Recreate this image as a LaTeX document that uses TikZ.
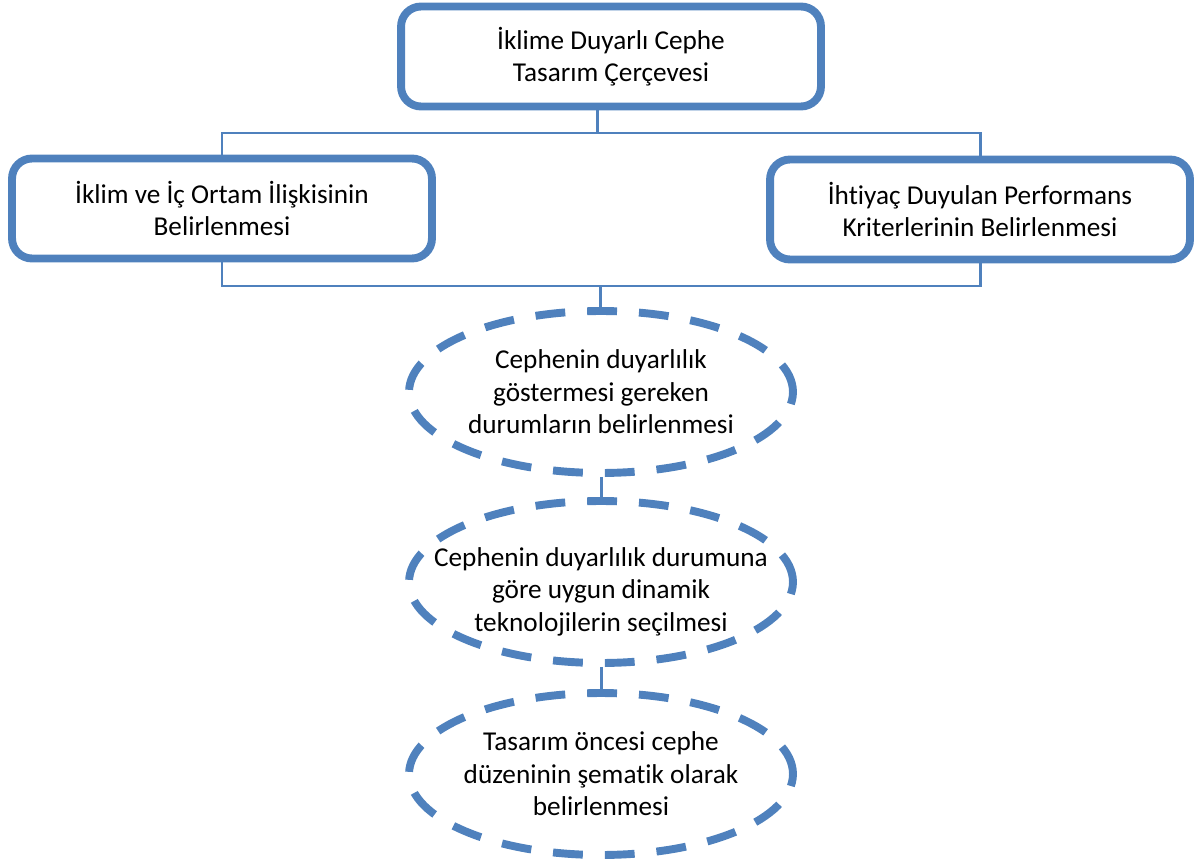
\documentclass[tikz,border=0pt]{standalone}
\usepackage{fontspec}
\setmainfont{Carlito}[Ligatures=NoCommon]
\usetikzlibrary{shapes.geometric}

\definecolor{boxblue}{RGB}{79,129,189}

\tikzset{
  mainbox/.style={draw=boxblue, line width=4.5pt, rounded corners=0.4cm,
    minimum width=8.4cm, minimum height=2cm, align=center, inner sep=0pt,
    font=\fontsize{15.5}{18.5}\selectfont},
  stepoval/.style={ellipse, draw=boxblue, line width=4.5pt,
    dash pattern=on 17pt off 12.5pt, minimum width=7.68cm, minimum height=3.24cm,
    align=center, inner xsep=-3cm, inner ysep=-1.5cm, font=\fontsize{15.5}{18.5}\selectfont},
  link/.style={draw=boxblue, line width=1.7pt}
}

\begin{document}
\begin{tikzpicture}[x=0.02cm, y=-0.02cm]
        \useasboundingbox (0,0) rectangle (1195,861);

        % Top box
        \node[mainbox] (frame) at (611,56.5) {İklime Duyarlı Cephe\\Tasarım Çerçevesi};

        % Second row
        \node[mainbox] (climate) at (222,208.5) {İklim ve İç Ortam İlişkisinin\\Belirlenmesi};
        \node[mainbox] (criteria) at (980,209.5) {İhtiyaç Duyulan Performans\\Kriterlerinin Belirlenmesi};

        % Steps
        \node[stepoval] (cases) at (601,392) {Cephenin duyarlılık\\göstermesi gereken\\durumların belirlenmesi};
        \node[stepoval] (tech) at (601,582) {\rule{0pt}{22pt}Cephenin duyarlılık durumuna\\göre uygun dinamik\\teknolojilerin seçilmesi};
        \node[stepoval] (layout) at (601,774) {Tasarım öncesi cephe\\düzeninin şematik olarak\\belirlenmesi};

        % Bus points
        \coordinate (busA) at (597,133);
        \coordinate (busB) at (600,286);

        % Connectors
        \draw[link] (busA |- frame.south) -- (busA);
        \draw[link] (climate.north) |- (busA);
        \draw[link] (criteria.north) |- (busA);
        \draw[link] (climate.south) |- (busB);
        \draw[link] (criteria.south) |- (busB);
        \draw[link] (busB) -- (busB |- cases.north);
        \draw[link] (cases.south) -- (tech.north);
        \draw[link] (tech.south) -- (layout.north);
    \end{tikzpicture}
\end{document}
